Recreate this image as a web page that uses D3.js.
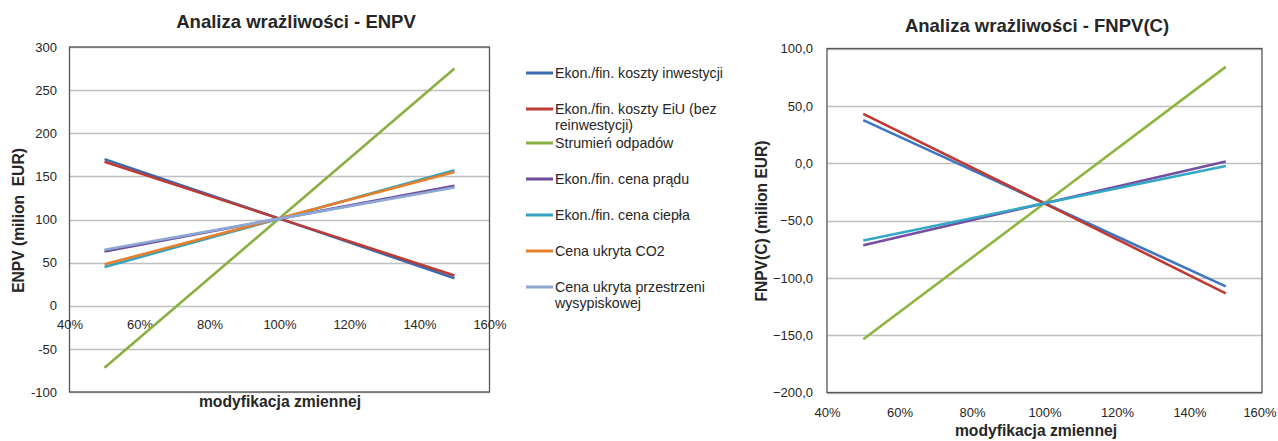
<!DOCTYPE html>
<html>
<head>
<meta charset="utf-8">
<script src="https://cdn.jsdelivr.net/npm/d3@7"></script>
<style>
  body { margin: 0; background: #fff; }
  svg { display: block; font-family: "Liberation Sans", Arial, sans-serif; }
</style>
</head>
<body>
<svg id="chart" width="1278" height="441"></svg>
<script>
// ---- data ----
const xValues = [0.5, 1.0, 1.5];
const xTicks = [0.4, 0.6, 0.8, 1.0, 1.2, 1.4, 1.6];

const seriesNames = [
  "Ekon./fin. koszty inwestycji",
  "Ekon./fin. koszty EiU (bez reinwestycji)",
  "Strumień odpadów",
  "Ekon./fin. cena prądu",
  "Ekon./fin. cena ciepła",
  "Cena ukryta CO2",
  "Cena ukryta przestrzeni wysypiskowej"
];
const legendLines = [
  ["Ekon./fin. koszty inwestycji"],
  ["Ekon./fin. koszty EiU (bez", "reinwestycji)"],
  ["Strumień odpadów"],
  ["Ekon./fin. cena prądu"],
  ["Ekon./fin. cena ciepła"],
  ["Cena ukryta CO2"],
  ["Cena ukryta przestrzeni", "wysypiskowej"]
];
const colors = ["#3A6BB0", "#BE3A34", "#8AB043", "#6E4C9A", "#35A3BF", "#E67F2C", "#8EA8D6"];
const colorsRight = ["#3D77C4", "#C03A34", "#8DB53F", "#7450A4", "#33A8C6"];

// ENPV (left chart)
const enpvInwestycji = [170, 101, 32];
const enpvEiU = [167, 101, 35];
const enpvOdpady = [-72, 101.5, 275];
const enpvPrad = [63, 101, 139];
const enpvCieplo = [45, 101, 157];
const enpvCO2 = [48, 101.5, 155];
const enpvPrzestrzen = [65, 101, 137];
const enpvTicks = [-100, -50, 0, 50, 100, 150, 200, 250, 300];

// FNPV(C) (right chart)
const fnpvInwestycji = [37.5, -35, -107.5];
const fnpvEiU = [43, -35, -113.5];
const fnpvOdpady = [-153.5, -35, 84];
const fnpvPrad = [-71.5, -35, 1.5];
const fnpvCieplo = [-67.5, -35, -2.5];
const fnpvTicks = [-200, -150, -100, -50, 0, 50, 100];

const svg = d3.select("#chart");
const pct = d => Math.round(d * 100) + "%";
const TXT = "#262626";

function txt(g, x, y, str, opts) {
  return g.append("text")
    .attr("transform", `translate(${x},${y})` + (opts.rotate ? ` rotate(${opts.rotate})` : ""))
    .attr("text-anchor", opts.anchor || "start")
    .attr("font-size", opts.size || 13)
    .attr("font-weight", opts.bold ? "bold" : "normal")
    .attr("fill", TXT)
    .style("white-space", "pre")
    .text(str);
}

function drawChart(cfg) {
  const g = svg.append("g");
  const x = d3.scaleLinear().domain([0.4, 1.6]).range([cfg.x0, cfg.x1]);
  const y = d3.scaleLinear().domain(cfg.yDomain).range([cfg.y1, cfg.y0]);

  // gridlines
  g.append("g").selectAll("line").data(cfg.yTicks).join("line")
    .attr("x1", cfg.x0).attr("x2", cfg.x1)
    .attr("y1", d => Math.round(y(d)) + 0.5).attr("y2", d => Math.round(y(d)) + 0.5)
    .attr("stroke", "#BFBFBF").attr("stroke-width", 1.3);

  // plot frame
  g.append("rect")
    .attr("x", cfg.x0).attr("y", cfg.y0)
    .attr("width", cfg.x1 - cfg.x0).attr("height", cfg.y1 - cfg.y0)
    .attr("fill", "none").attr("stroke", "#555").attr("stroke-width", 1.3);

  // y axis labels
  const ya = g.append("g").attr("transform", `translate(${cfg.x0},0)`)
    .call(d3.axisLeft(y).tickValues(cfg.yTicks).tickSize(0).tickPadding(cfg.yPad).tickFormat(cfg.yFmt));
  ya.select(".domain").remove();
  ya.selectAll("text").attr("font-size", 13).attr("fill", TXT)
    .attr("font-family", "Liberation Sans, Arial, sans-serif");

  // x axis labels
  const xa = g.append("g").attr("transform", `translate(0,${cfg.xAxisY})`)
    .call(d3.axisBottom(x).tickValues(xTicks).tickSize(0).tickPadding(cfg.xPad).tickFormat(pct));
  xa.select(".domain").remove();
  xa.selectAll("text").attr("font-size", 13).attr("fill", TXT)
    .attr("font-family", "Liberation Sans, Arial, sans-serif")
    .attr("dx", (d, i) => (i === xTicks.length - 1 ? cfg.lastDx : 0));

  // lines
  const line = d3.line().x((d, i) => x(xValues[i])).y(d => y(d));
  g.append("g").selectAll("path").data(cfg.series).join("path")
    .attr("d", d => line(d.values))
    .attr("fill", "none")
    .attr("stroke", d => d.color)
    .attr("stroke-width", 2.6)
    .attr("stroke-linecap", "butt");

  // titles
  txt(g, cfg.titleX, cfg.titleY, cfg.title, { anchor: "middle", bold: true, size: 18.5 });
  txt(g, cfg.xTitleX, cfg.xTitleY, "modyfikacja zmiennej", { anchor: "middle", bold: true, size: 15.7 });
  txt(g, cfg.yTitleX, cfg.yTitleY, cfg.yTitle, { anchor: "middle", bold: true, size: 15.6, rotate: -90 });
}

drawChart({
  x0: 69.5, x1: 489.5, y0: 47, y1: 392,
  yDomain: [-100, 300], yTicks: enpvTicks, yFmt: d => String(d), yPad: 12.5,
  xAxisY: 306, xPad: 13.8, lastDx: 0,
  title: "Analiza wrażliwości - ENPV", titleX: 296, titleY: 27.5,
  xTitleX: 280, xTitleY: 407,
  yTitle: "ENPV (milion  EUR)", yTitleX: 23.5, yTitleY: 220.5,
  series: [
    { values: enpvInwestycji, color: colors[0] },
    { values: enpvEiU, color: colors[1] },
    { values: enpvOdpady, color: colors[2] },
    { values: enpvPrad, color: colors[3] },
    { values: enpvCieplo, color: colors[4] },
    { values: enpvCO2, color: colors[5] },
    { values: enpvPrzestrzen, color: colors[6] }
  ]
});

drawChart({
  x0: 827, x1: 1262, y0: 48.5, y1: 392.5,
  yDomain: [-200, 100], yTicks: fnpvTicks, yFmt: d => d3.format(".1f")(d).replace(".", ","), yPad: 14,
  xAxisY: 392.5, xPad: 15, lastDx: -2.5,
  title: "Analiza wrażliwości - FNPV(C)", titleX: 1037, titleY: 31.5,
  xTitleX: 1036, xTitleY: 436,
  yTitle: "FNPV(C) (milion EUR)", yTitleX: 767, yTitleY: 221,
  series: [
    { values: fnpvInwestycji, color: colorsRight[0] },
    { values: fnpvEiU, color: colorsRight[1] },
    { values: fnpvOdpady, color: colorsRight[2] },
    { values: fnpvPrad, color: colorsRight[3] },
    { values: fnpvCieplo, color: colorsRight[4] }
  ]
});

// legend
const legendY = [73, 109, 143, 179, 215, 251, 287];
const lg = svg.append("g").selectAll("g").data(seriesNames).join("g")
  .attr("transform", (d, i) => `translate(526,${legendY[i]})`);
lg.append("line").attr("x1", 0).attr("x2", 27).attr("y1", 0).attr("y2", 0)
  .attr("stroke", (d, i) => colors[i]).attr("stroke-width", 3);
lg.each(function(d, i) {
  const t = d3.select(this).append("text")
    .attr("transform", "translate(29,5)")
    .attr("font-size", 14.2).attr("fill", TXT);
  legendLines[i].forEach((s, k) => {
    t.append("tspan").attr("x", 0).attr("dy", k === 0 ? 0 : 16).text(s);
  });
});
</script>
</body>
</html>
